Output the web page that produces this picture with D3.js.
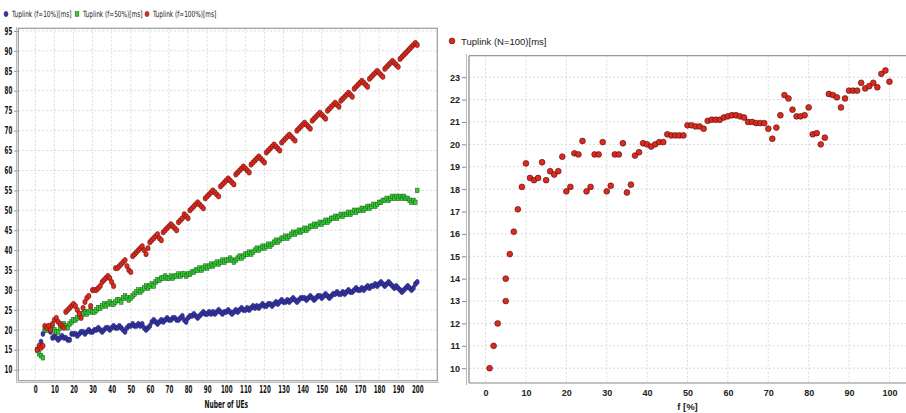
<!DOCTYPE html>
<html>
<head>
<meta charset="utf-8">
<script src="https://cdn.jsdelivr.net/npm/d3@7"></script>
<style>
  body { margin: 0; background: #fff; }
  svg { display: block; }
  .nar { font-family: "DejaVu Sans Condensed", "DejaVu Sans", sans-serif; }
  .reg { font-family: "Liberation Sans", Arial, sans-serif; }
</style>
</head>
<body>
<svg id="chart" width="906" height="413"></svg>
<script>
// ---- data: left chart, number of UEs 1..200 ----
var ues = d3.range(1, 201);
var blue10 = [
  15, 15.5, 17, 19, 20, 20.5, 20, 19.5, 18, 18.5,
  18, 17.5, 18, 18.5, 18, 18, 17.5, 17.5, 19, 19,
  19, 18.5, 19, 19.5, 19.5, 19, 19.5, 20, 19.5, 19.5,
  20, 20, 20.5, 20, 19.5, 20, 20.5, 20.5, 20, 20.5,
  21, 20.5, 20.5, 21, 20.5, 20, 19.5, 20.5, 21, 21,
  21.5, 21, 21, 21.5, 21, 21.5, 20.5, 20, 20.5, 21,
  22, 22.5, 22, 21.5, 22, 22.5, 22, 22.5, 23, 22.5,
  22.5, 23, 23, 22.5, 22.5, 23, 23.5, 22.5, 22, 23,
  23.5, 23.5, 24, 23.5, 23, 23.5, 24, 24.5, 24, 24,
  24.5, 24, 24.5, 24, 24.5, 25, 24.5, 24, 24.5, 24.5,
  25, 24.5, 24, 24.5, 25, 24.5, 25, 25.5, 25, 25,
  25.5, 25, 25.5, 26, 25.5, 26, 25.5, 26, 26.5, 26,
  26, 26.5, 26.5, 26, 26.5, 27, 26.5, 27, 27.5, 27,
  27, 27.5, 27, 27.5, 28, 27.5, 27, 27.5, 28, 28,
  28, 27.5, 28, 28.5, 28, 27.5, 28, 28.5, 28.5, 28,
  28.5, 29, 28.5, 28, 28.5, 29, 29, 29.5, 29, 29,
  29.5, 29, 29.5, 30, 29.5, 29.5, 30, 30.5, 30, 30,
  30.5, 30, 30.5, 31, 30.5, 31, 31, 31.5, 31, 31.5,
  32, 31.5, 31, 31.5, 32, 31.5, 31, 30.5, 31, 30.5,
  30, 29.5, 30, 30.5, 31, 30.5, 30, 30.5, 31.5, 32
];
var green50 = [
  15, 14, 13.5, 13, 20, 20, 20.5, 21, 20.5, 20,
  19.5, 19.5, 20.5, 21, 21.5, 21, 20.5, 21.5, 22, 22.5,
  22.5, 23, 23.5, 24, 24, 24.5, 24, 24.5, 25, 24.5,
  24.5, 25, 25.5, 25.5, 26, 26.5, 26, 26.5, 27, 26.5,
  26.5, 27, 27.5, 27.5, 27, 28, 28.5, 28, 27.5, 28,
  28.5, 29, 29.5, 30, 29.5, 30, 30.5, 31, 30.5, 31,
  31.5, 31, 32, 32.5, 32.5, 33, 33, 33.5, 33, 33,
  33.5, 33, 33.5, 33.5, 34, 33.5, 34, 34, 33.5, 34,
  34, 34.5, 34.5, 35, 35, 35.5, 35, 35.5, 36, 35.5,
  36, 36.5, 36, 36.5, 37, 36.5, 37, 37.5, 37, 37.5,
  37.5, 38, 37.5, 37, 37.5, 38, 38.5, 38, 38.5, 39,
  39, 39.5, 39, 39.5, 40, 40.5, 40, 40.5, 41, 40.5,
  41, 41.5, 41, 41.5, 42, 42.5, 42, 42.5, 43, 43,
  43.5, 43, 43.5, 44, 44.5, 44, 44.5, 45, 44.5, 45,
  45.5, 45, 45.5, 46, 46, 46.5, 46, 46.5, 47, 46.5,
  47, 47.5, 47, 47.5, 48, 48, 48.5, 48, 48.5, 49,
  48.5, 49, 49, 49.5, 49, 49.5, 50, 49.5, 50, 50,
  50.5, 50, 50.5, 51, 50.5, 51, 51.5, 51, 51.5, 52,
  52, 52.5, 52.5, 53, 52.5, 53, 53.5, 53, 53.5, 53,
  53.5, 53, 53.5, 53, 53, 52.5, 52, 52.5, 52, 55
];
var red100 = [
  15, 16, 15.5, 16, 21, 20.5, 21, 20, 21.5, 22.5,
  23, 22, 21.5, 21, 20.5, 24.5, 25, 25.5, 26, 26.5,
  26, 25, 24, 23, 25.5, 27, 28, 28.5, 26, 30,
  30, 30, 30.5, 31, 32, 32.5, 33, 33.5, 33, 32,
  31, 35.5, 35.5, 36, 36.5, 37, 37.5, 36, 35, 34.5,
  38.5, 39, 39.5, 40, 40.5, 41, 40, 39, 40.5, 42,
  42.5, 43, 43.5, 44, 43, 42.5, 44.5, 45, 45.5, 46,
  46.5, 46, 45.5, 45, 47, 47.5, 48, 49, 48.5, 48,
  50, 50.5, 51, 51.5, 52, 51.5, 51, 50.5, 53, 53.5,
  54, 54.5, 55, 54.5, 54, 53.5, 56, 56.5, 57, 57.5,
  58, 57.5, 57, 56.5, 59, 59.5, 60, 60.5, 61, 60.5,
  60, 59.5, 61.5, 62, 62.5, 63, 63.5, 63, 62.5, 62,
  64.5, 65, 65.5, 66, 66.5, 66, 65.5, 65, 67, 67.5,
  68, 68.5, 69, 68.5, 68, 67.5, 70, 70.5, 71, 71.5,
  72, 71.5, 71, 70.5, 72.5, 73, 73.5, 74, 74.5, 74,
  73.5, 73, 75, 75.5, 76, 76.5, 77, 76.5, 76, 77.5,
  78, 78.5, 79, 79.5, 79, 78.5, 80.5, 81, 81.5, 82,
  82.5, 82, 81.5, 81, 83, 83.5, 84, 84.5, 85, 84.5,
  84, 83.5, 85.5, 86, 86.5, 87, 87.5, 87, 86.5, 86,
  88, 88.5, 89, 89.5, 90, 90.5, 91, 91.5, 92, 91.5
];
var leftNames = ["Tuplink (f=10%)[ms]", "Tuplink (f=50%)[ms]", "Tuplink (f=100%)[ms]"];
var leftXTicks = d3.range(0, 201, 10);
var leftYTicks = d3.range(10, 96, 5);

// ---- data: right chart, f [%] with N=100 ----
var fPct = [1, 2, 3, 5, 5, 6, 7, 8, 9, 10,
  11, 12, 13, 14, 15, 16, 17, 18, 19, 20,
  21, 22, 23, 24, 25, 26, 27, 28, 29, 30,
  31, 32, 33, 34, 35, 36, 37, 38, 39, 40,
  41, 42, 43, 44, 45, 46, 47, 48, 49, 50,
  51, 52, 53, 54, 55, 56, 57, 58, 59, 60,
  61, 62, 63, 64, 65, 66, 67, 68, 69, 70,
  71, 72, 73, 74, 75, 76, 77, 78, 79, 80,
  81, 82, 83, 84, 85, 86, 87, 88, 89, 90,
  91, 92, 93, 94, 95, 96, 97, 98, 99, 100];
var tN100 = [10, 11, 12, 13, 14, 15.1, 16.1, 17.1, 18.1, 19.15,
  18.5, 18.4, 18.5, 19.2, 18.4, 18.8, 18.65, 18.8, 19.45, 17.9,
  18.1, 19.6, 19.55, 20.15, 17.9, 18.1, 19.55, 19.55, 20.1, 17.9,
  18.15, 19.55, 19.55, 20.05, 17.85, 18.2, 19.5, 19.65, 20.05, 20.0,
  19.9, 20.0, 20.1, 20.1, 20.45, 20.4, 20.4, 20.4, 20.4, 20.85,
  20.85, 20.8, 20.8, 20.7, 21.05, 21.1, 21.1, 21.1, 21.2, 21.25,
  21.3, 21.3, 21.25, 21.2, 21.0, 21.0, 20.95, 20.95, 20.95, 20.7,
  20.25, 20.75, 21.3, 22.2, 22.05, 21.55, 21.25, 21.25, 21.3, 21.65,
  20.45, 20.5, 20.0, 20.3, 22.25, 22.2, 22.1, 21.65, 22.05, 22.4,
  22.4, 22.4, 22.75, 22.5, 22.6, 22.75, 22.55, 23.15, 23.3, 22.8];
var rightName = "Tuplink (N=100)[ms]";
var rightXTicks = d3.range(0, 101, 10);
var rightYTicks = d3.range(10, 24, 1);

var svg = d3.select("#chart");
var gridCol = "#d0d0d0";

// the left panel was squeezed sideways, so its text is narrow
function squeeze(sel, sx){
  sel.each(function(){
    var t = d3.select(this);
    var x = +t.attr("x") || 0;
    var y = +t.attr("y") || 0;
    t.attr("x", 0).attr("y", 0)
      .attr("transform", "translate(" + x + "," + y + ") scale(" + sx + ",1)");
  });
}

// ================= left chart =================
var lx = d3.scaleLinear().domain([-8.9, 210.5]).range([18.3, 437.3]);
var ly = d3.scaleLinear().domain([7.24, 95.68]).range([380.7, 28.3]);

var L = svg.append("g");
L.append("rect").attr("x", 18.3).attr("y", 28.3).attr("width", 419).attr("height", 352.4).attr("fill", "#fff");
L.selectAll(".vg").data(leftXTicks).enter().append("line")
  .attr("x1", d => lx(d)).attr("x2", d => lx(d)).attr("y1", 28.3).attr("y2", 380.7)
  .attr("stroke", gridCol).attr("stroke-width", 0.8).attr("stroke-dasharray", "2,2");
L.selectAll(".hg").data(leftYTicks).enter().append("line")
  .attr("x1", 18.3).attr("x2", 437.3).attr("y1", d => ly(d)).attr("y2", d => ly(d))
  .attr("stroke", gridCol).attr("stroke-width", 0.8).attr("stroke-dasharray", "2,2");

var lyAxis = L.append("g").attr("transform", "translate(18.3,0)")
  .call(d3.axisLeft(ly).tickValues(leftYTicks).tickSize(4).tickPadding(2));
var lxAxis = L.append("g").attr("transform", "translate(0,384)")
  .call(d3.axisBottom(lx).tickValues(leftXTicks).tickSize(0).tickPadding(2));
[lyAxis, lxAxis].forEach(function(a){
  a.select(".domain").remove();
  a.selectAll("line").attr("stroke", "#888");
  a.selectAll("text").attr("class", "nar").attr("font-size", 10).attr("font-weight", "bold").attr("fill", "#111")
    .call(squeeze, 0.62);
});
L.append("text").attr("class", "nar").attr("x", lx(100)).attr("y", 408)
  .attr("text-anchor", "middle").attr("font-size", 10).attr("font-weight", "bold").attr("fill", "#111")
  .text("Nuber of UEs").call(squeeze, 0.66);

// series
L.selectAll(".b").data(ues).enter().append("ellipse")
  .attr("cx", d => lx(d)).attr("cy", (d, i) => ly(blue10[i])).attr("rx", 2).attr("ry", 2.7)
  .attr("fill", "#3434a8").attr("stroke", "#1a1a55").attr("stroke-width", 0.5);
L.selectAll(".g").data(ues).enter().append("rect")
  .attr("x", d => lx(d) - 1.8).attr("y", (d, i) => ly(green50[i]) - 2.3).attr("width", 3.6).attr("height", 4.6)
  .attr("fill", "#33cc33").attr("stroke", "#1a551a").attr("stroke-width", 0.5);
L.selectAll(".r").data(ues).enter().append("ellipse")
  .attr("cx", d => lx(d)).attr("cy", (d, i) => ly(red100[i])).attr("rx", 2.2).attr("ry", 2.7)
  .attr("fill", "#dd2a1e").attr("stroke", "#5a1010").attr("stroke-width", 0.5);

// frame
L.append("rect").attr("x", 18.3).attr("y", 28.3).attr("width", 419).attr("height", 352.4)
  .attr("fill", "none").attr("stroke", "#999").attr("stroke-width", 1.2);
L.append("line").attr("x1", 16.5).attr("x2", 16.5).attr("y1", 27).attr("y2", 382.5).attr("stroke", "#bbb").attr("stroke-width", 1);
L.append("line").attr("x1", 16.5).attr("x2", 439).attr("y1", 382.5).attr("y2", 382.5).attr("stroke", "#bbb").attr("stroke-width", 1);

// legend
var legX = [6, 77, 147];
leftNames.forEach(function(n, i){
  var g = L.append("g").attr("transform", "translate(" + legX[i] + ",14)");
  if (i === 1) {
    g.append("rect").attr("x", -1.8).attr("y", -2.3).attr("width", 3.6).attr("height", 4.6)
      .attr("fill", "#33cc33").attr("stroke", "#1a551a").attr("stroke-width", 0.5);
  } else {
    g.append("ellipse").attr("rx", 2).attr("ry", 2.7)
      .attr("fill", i === 0 ? "#3434a8" : "#dd2a1e").attr("stroke", i === 0 ? "#1a1a55" : "#5a1010").attr("stroke-width", 0.5);
  }
  g.append("text").attr("class", "nar").attr("x", 6).attr("y", 3).attr("font-size", 8.5).attr("fill", "#222")
    .text(n).call(squeeze, 0.76);
});

// ================= right chart =================
var rx = d3.scaleLinear().domain([-4.1, 104.1]).range([469, 906]);
var ry = d3.scaleLinear().domain([9.34, 23.96]).range([383, 55.7]);

var R = svg.append("g");
R.selectAll(".vg").data(rightXTicks).enter().append("line")
  .attr("x1", d => rx(d)).attr("x2", d => rx(d)).attr("y1", 55.7).attr("y2", 383)
  .attr("stroke", gridCol).attr("stroke-width", 0.8).attr("stroke-dasharray", "2,2");
R.selectAll(".hg").data(rightYTicks).enter().append("line")
  .attr("x1", 469).attr("x2", 906).attr("y1", d => ry(d)).attr("y2", d => ry(d))
  .attr("stroke", gridCol).attr("stroke-width", 0.8).attr("stroke-dasharray", "2,2");

var ryAxis = R.append("g").attr("transform", "translate(466,0)")
  .call(d3.axisLeft(ry).tickValues(rightYTicks).tickSize(4).tickPadding(2));
var rxAxis = R.append("g").attr("transform", "translate(0,386)")
  .call(d3.axisBottom(rx).tickValues(rightXTicks).tickSize(0).tickPadding(4));
[ryAxis, rxAxis].forEach(function(a){
  a.select(".domain").remove();
  a.selectAll("line").attr("stroke", "#888");
  a.selectAll("text").attr("class", "reg").attr("font-size", 9).attr("font-weight", "bold").attr("fill", "#222");
});
R.append("text").attr("class", "reg").attr("x", rx(50)).attr("y", 410)
  .attr("text-anchor", "middle").attr("font-size", 9.5).attr("font-weight", "bold").attr("fill", "#222")
  .text("f [%]");

R.selectAll(".p").data(fPct).enter().append("circle")
  .attr("cx", d => rx(d)).attr("cy", (d, i) => ry(tN100[i])).attr("r", 2.9)
  .attr("fill", "#dd2a1e").attr("stroke", "#4a0c0c").attr("stroke-width", 0.6);

R.append("line").attr("x1", 469).attr("x2", 906).attr("y1", 55.7).attr("y2", 55.7).attr("stroke", "#999").attr("stroke-width", 1.2);
R.append("line").attr("x1", 469).attr("x2", 906).attr("y1", 383).attr("y2", 383).attr("stroke", "#888").attr("stroke-width", 1.2);
R.append("line").attr("x1", 469).attr("x2", 469).attr("y1", 55.7).attr("y2", 383).attr("stroke", "#888").attr("stroke-width", 1.2);
R.append("line").attr("x1", 466.5).attr("x2", 466.5).attr("y1", 54).attr("y2", 385).attr("stroke", "#bbb").attr("stroke-width", 1);

// legend
R.append("circle").attr("cx", 452).attr("cy", 41).attr("r", 2.9)
  .attr("fill", "#dd2a1e").attr("stroke", "#4a0c0c").attr("stroke-width", 0.6);
R.append("text").attr("class", "reg").attr("x", 461).attr("y", 44.5).attr("font-size", 9.5).attr("fill", "#222")
  .text(rightName);
</script>
</body>
</html>
